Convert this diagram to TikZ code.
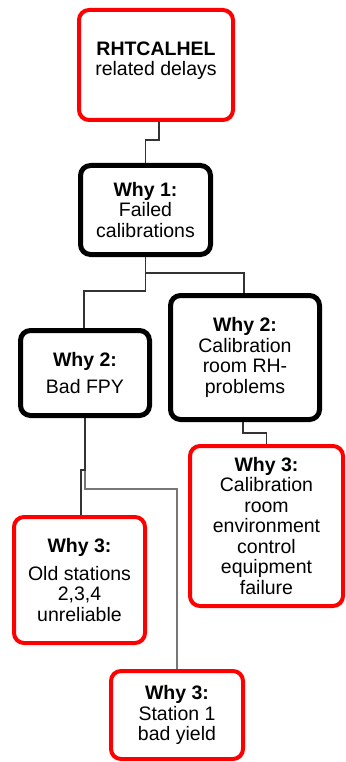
\documentclass[tikz,border=0pt]{standalone}
\usepackage{fontspec}
\setmainfont{Liberation Sans}
\definecolor{boxred}{HTML}{FF0000}
\definecolor{linkdark}{HTML}{333333}
\definecolor{linkgrey}{HTML}{777777}
\begin{document}
\begin{tikzpicture}[x=1pt,y=-1pt,
  whybox/.style={rounded corners=10pt, align=center, inner sep=0pt, fill=white,
    font=\fontsize{19.5}{20.5}\selectfont},
  redbox/.style={whybox, draw=boxred, line width=4pt},
  blackbox/.style={whybox, draw=black, line width=5pt},
  link/.style={draw=linkdark, line width=1.4pt},
  softlink/.style={draw=linkgrey, line width=1.4pt}]
\useasboundingbox (0,0) rectangle (345,762);

% boxes
\node[redbox, minimum width=154pt, minimum height=110pt, text depth=13pt] (top) at (156,65)
  {\textbf{RHTCALHEL}\\related delays};
\node[blackbox, minimum width=130pt, minimum height=89pt] (why1) at (145.5,210)
  {\textbf{Why 1:}\\Failed\\calibrations};
\node[blackbox, minimum width=129pt, minimum height=85pt] (why2L) at (85,373)
  {\textbf{Why 2:}\\[7pt]Bad FPY};
\node[blackbox, minimum width=149pt, minimum height=124pt] (why2R) at (245,357.5)
  {\textbf{Why 2:}\\Calibration\\room RH-\\problems};
\node[redbox, minimum width=153pt, minimum height=160pt] (why3R) at (266.5,526)
  {\textbf{Why 3:}\\Calibration\\room\\environment\\control\\equipment\\failure};
\node[redbox, minimum width=131pt, minimum height=126pt] (why3L) at (79.5,580)
  {\textbf{Why 3:}\\[7pt]Old stations\\2,3,4\\unreliable};
\node[redbox, minimum width=132pt, minimum height=88pt] (why3B) at (177,715)
  {\textbf{Why 3:}\\Station 1\\bad yield};

% bend levels of the elbow connectors
\coordinate (c1) at (159,140);
\coordinate (j1) at (0,273);
\coordinate (j2) at (0,291);
\coordinate (j3) at (0,433);
\coordinate (j4) at (0,470);
\coordinate (j5) at (0,489);

% connectors
\draw[softlink] (why2L.south) -- (why2L.south |- j5) -| (why3B.north);
\draw[link] (c1 |- top.south) -- (c1) -| (why1.north);
\draw[link] (why1.south) -- (why1.south |- j1) -| ([xshift=-1pt]why2R.north);
\draw[link] (why1.south) -- (why1.south |- j2) -| ([xshift=-1pt]why2L.north);
\draw[link] ([xshift=-2pt]why2R.south) -- ([xshift=-2pt]why2R.south |- j3) -| (why3R.north);
\draw[link] (why2L.south) -- (why2L.south |- j4) -| ([xshift=1.5pt]why3L.north);
\end{tikzpicture}
\end{document}
